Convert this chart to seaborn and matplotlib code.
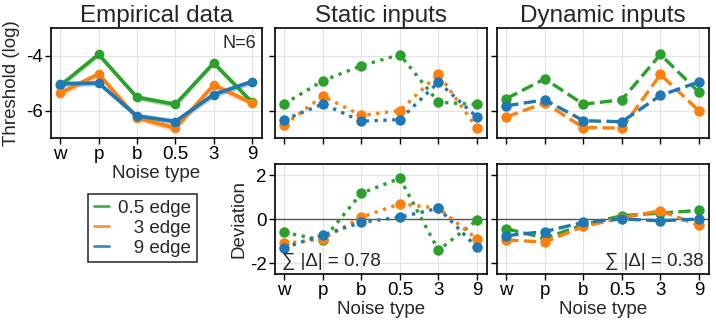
import numpy as np
import pandas as pd
import seaborn as sns
import matplotlib
matplotlib.use("Agg")
import matplotlib.pyplot as plt

# noise types on the x axis
noise_types = ["w", "p", "b", "0.5", "3", "9"]
edges = ["0.5 edge", "3 edge", "9 edge"]
colors = ["#2ca02c", "#ff7f0e", "#1f77b4"]

# empirical thresholds (log)
emp_05 = [-5.09, -3.96, -5.52, -5.78, -4.27, -5.70]
emp_3 = [-5.37, -4.67, -6.27, -6.64, -5.07, -5.73]
emp_9 = [-5.03, -5.00, -6.20, -6.40, -5.42, -4.95]
# spread of the empirical band
emp_err_05 = [0.10, 0.10, 0.10, 0.11, 0.10, 0.11]
emp_err_3 = [0.12, 0.11, 0.11, 0.12, 0.11, 0.11]
emp_err_9 = [0.11, 0.10, 0.10, 0.11, 0.12, 0.11]

# model thresholds, static inputs
stat_05 = [-5.76, -4.92, -4.37, -3.97, -5.70, -5.78]
stat_3 = [-6.52, -5.48, -6.18, -6.00, -4.67, -6.64]
stat_9 = [-6.34, -5.76, -6.39, -6.33, -4.97, -6.24]

# model thresholds, dynamic inputs
dyn_05 = [-5.57, -4.85, -5.77, -5.61, -3.96, -5.34]
dyn_3 = [-6.24, -5.72, -6.62, -6.64, -4.69, -6.01]
dyn_9 = [-5.83, -5.61, -6.37, -6.41, -5.45, -4.96]

# deviations from the empirical data
dev_stat_05 = [-0.61, -0.96, 1.17, 1.85, -1.42, -0.05]
dev_stat_3 = [-1.11, -0.91, 0.08, 0.69, 0.49, -0.91]
dev_stat_9 = [-1.31, -0.73, -0.15, 0.08, 0.49, -1.29]
dev_dyn_05 = [-0.44, -0.87, -0.26, 0.15, 0.27, 0.39]
dev_dyn_3 = [-0.95, -1.05, -0.34, 0.05, 0.38, -0.29]
dev_dyn_9 = [-0.76, -0.57, -0.15, 0.00, -0.08, 0.00]

sum_stat = 0.78
sum_dyn = 0.38
n_subj = 6

sns.set_style("whitegrid", {"axes.edgecolor": "black", "grid.color": "#e3e3e3",
                            "xtick.bottom": True, "ytick.left": True,
                            "xtick.color": "black", "ytick.color": "black"})
plt.rcParams["font.family"] = ["Liberation Sans", "DejaVu Sans"]
plt.rcParams["axes.unicode_minus"] = False
plt.rcParams["font.size"] = 13.5
plt.rcParams["axes.linewidth"] = 1.2
plt.rcParams["xtick.major.size"] = 4
plt.rcParams["ytick.major.size"] = 4
plt.rcParams["xtick.major.width"] = 1
plt.rcParams["ytick.major.width"] = 1
plt.rcParams["xtick.major.pad"] = 2
plt.rcParams["ytick.major.pad"] = 2

W, H = 716, 320
fig = plt.figure(figsize=(W / 100, H / 100), dpi=100)


def add_ax(x0, x1, y0, y1):
    return fig.add_axes([x0 / W, 1 - y1 / H, (x1 - x0) / W, (y1 - y0) / H])


ax_emp = add_ax(51, 262, 28, 138)
ax_stat = add_ax(275, 487, 28, 138)
ax_dyn = add_ax(497, 709, 28, 138)
ax_dstat = add_ax(275, 487, 164, 274)
ax_ddyn = add_ax(497, 709, 164, 274)

x = np.arange(len(noise_types))

# Empirical
for vals, err, c, lab in zip([emp_05, emp_3, emp_9], [emp_err_05, emp_err_3, emp_err_9], colors, edges):
    v = np.array(vals)
    e = np.array(err)
    ax_emp.fill_between(x, v - e, v + e, color=c, alpha=0.35, lw=0)
    sns.lineplot(x=x, y=v, color=c, lw=2.6, marker="o", markersize=7,
                 markeredgewidth=0, ax=ax_emp, label=lab)

for ax, series, ls in [(ax_stat, [stat_05, stat_3, stat_9], ":"),
                       (ax_dyn, [dyn_05, dyn_3, dyn_9], "--"),
                       (ax_dstat, [dev_stat_05, dev_stat_3, dev_stat_9], ":"),
                       (ax_ddyn, [dev_dyn_05, dev_dyn_3, dev_dyn_9], "--")]:
    for vals, c in zip(series, colors):
        sns.lineplot(x=x, y=vals, color=c, lw=2.4, linestyle=ls, marker="o",
                     markersize=7.5, markeredgewidth=0, ax=ax)

for ax in [ax_emp, ax_stat, ax_dyn, ax_dstat, ax_ddyn]:
    ax.set_xlim(-0.24, 5.26)
    ax.set_xticks(x)
    ax.set_xticklabels(noise_types)
    ax.set_xlabel("")
    ax.set_ylabel("")
    ax.tick_params(direction="out")
    for s in ax.spines.values():
        s.set_color("black")
    if ax.get_legend() is not None:
        ax.get_legend().remove()

for ax in [ax_emp, ax_stat, ax_dyn]:
    ax.set_ylim(-7.0, -3.0)
    ax.set_yticks([-6, -4])
for ax in [ax_dstat, ax_ddyn]:
    ax.set_ylim(-2.5, 2.5)
    ax.set_yticks([-2, 0, 2])
    ax.axhline(0, color="#555555", lw=1.0, zorder=1)

for ax in [ax_stat, ax_dyn, ax_ddyn]:
    ax.tick_params(labelleft=False)
for ax in [ax_stat, ax_dyn]:
    ax.tick_params(labelbottom=False)

ax_emp.set_title("Empirical data", fontsize=17.5, pad=4)
ax_stat.set_title("Static inputs", fontsize=17.5, pad=4)
ax_dyn.set_title("Dynamic inputs", fontsize=17.5, pad=4)
ax_emp.set_ylabel("Threshold (log)", labelpad=4)
ax_emp.set_xlabel("Noise type", labelpad=1)
ax_dstat.set_ylabel("Deviation", labelpad=2)
ax_dstat.set_xlabel("Noise type", labelpad=1)
ax_ddyn.set_xlabel("Noise type", labelpad=1)

ax_emp.text(0.975, 0.94, f"N={n_subj}", transform=ax_emp.transAxes, ha="right", va="top", fontsize=13)
ax_dstat.text(0.035, 0.04, f"\u2211 |\u0394| = {sum_stat:.2f}", transform=ax_dstat.transAxes,
              ha="left", va="bottom", fontsize=13.5)
ax_ddyn.text(0.975, 0.04, f"\u2211 |\u0394| = {sum_dyn:.2f}", transform=ax_ddyn.transAxes,
             ha="right", va="bottom", fontsize=13.5)

# legend with right-aligned labels
leg_labels = ["0.5 edge", "   3 edge", "   9 edge"]
leg = fig.legend([plt.Line2D([], [], color=c, lw=2, alpha=0.85) for c in colors], leg_labels,
                 loc="upper left", bbox_to_anchor=(88 / W, 1 - 194 / H), borderaxespad=0,
                 frameon=True, fancybox=False, edgecolor="black", handlelength=0.8,
                 handletextpad=0.5, labelspacing=0.15, borderpad=0.3, fontsize=13.5)
leg.get_frame().set_linewidth(1.2)

fig.savefig("out.png", dpi=100)
